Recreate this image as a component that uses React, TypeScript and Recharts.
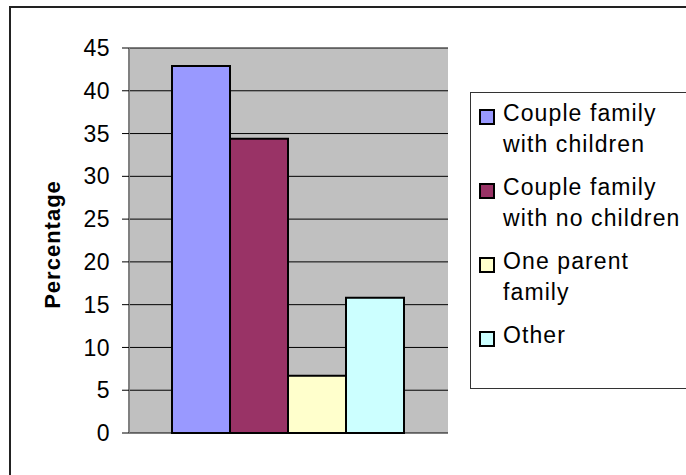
import { Bar, BarChart, CartesianGrid, XAxis, YAxis } from "recharts";

const FONT = '"Liberation Sans", Arial, sans-serif';

const categories = ["Family type"];
const seriesNames = [
  "Couple family with children",
  "Couple family with no children",
  "One parent family",
  "Other",
];
const seriesLines = [
  ["Couple family", "with children"],
  ["Couple family", "with no children"],
  ["One parent", "family"],
  ["Other"],
];
const seriesValues = [42.9, 34.4, 6.7, 15.8];
const seriesColors = ["#9999FF", "#993366", "#FFFFCC", "#CCFFFF"];
const yTicks = [0, 5, 10, 15, 20, 25, 30, 35, 40, 45];

const data = categories.map((c) => {
  const row: Record<string, string | number> = { name: c };
  seriesNames.forEach((s, i) => {
    row[s] = seriesValues[i];
  });
  return row;
});

function LegendBox() {
  return (
    <div
      style={{
        position: "absolute",
        left: 470,
        top: 92,
        width: 240,
        height: 297,
        border: "1px solid #333",
        boxSizing: "border-box",
        padding: "5px 0 0 8px",
        fontFamily: FONT,
        fontSize: 23,
        letterSpacing: 1.1,
        lineHeight: "31px",
        color: "#000",
      }}
    >
      {seriesNames.map((s, i) => (
        <div key={s} style={{ display: "flex", marginBottom: 12 }}>
          <div
            style={{
              width: 12,
              height: 12,
              marginTop: 11,
              marginRight: 8,
              background: seriesColors[i],
              border: "2px solid #000",
              flex: "none",
            }}
          />
          <div>
            {seriesLines[i].map((l) => (
              <div key={l} style={{ whiteSpace: "nowrap" }}>
                {l}
              </div>
            ))}
          </div>
        </div>
      ))}
    </div>
  );
}

export default function App() {
  return (
    <div
      style={{
        position: "absolute",
        left: 0,
        top: 0,
        width: 686,
        height: 475,
        overflow: "hidden",
        background: "#fff",
      }}
    >
      <div
        style={{
          position: "absolute",
          left: 9,
          top: 6,
          width: 900,
          height: 700,
          border: "2px solid #222",
        }}
      />
      <div style={{ position: "absolute", left: 0, top: 0 }}>
        <BarChart
          width={686}
          height={475}
          data={data}
          margin={{ top: 48, right: 238, bottom: 42, left: 0 }}
          barGap={0}
          barCategoryGap={43}
        >
          <CartesianGrid fill="#C0C0C0" stroke="#000" vertical={false} strokeOpacity={1} />
          <XAxis
            dataKey="name"
            height={0}
            tick={false}
            tickLine={false}
            axisLine={{ stroke: "#808080", strokeWidth: 2 }}
          />
          <XAxis
            xAxisId="top"
            orientation="top"
            dataKey="name"
            height={0}
            tick={false}
            tickLine={false}
            axisLine={{ stroke: "#808080", strokeWidth: 2 }}
          />
          <YAxis
            width={129}
            domain={[0, 45]}
            ticks={yTicks}
            interval={0}
            tickSize={7}
            tickMargin={12}
            tickLine={{ stroke: "#000" }}
            axisLine={{ stroke: "#808080", strokeWidth: 2 }}
            tick={{ fill: "#000", fontSize: 23, fontFamily: FONT, letterSpacing: 0.5 }}
            label={{
              content: ({ viewBox }: any) => {
                const cx = viewBox.x + 60;
                const cy = viewBox.y + viewBox.height / 2 + 4;
                return (
                  <text
                    x={cx}
                    y={cy}
                    transform={`rotate(-90 ${cx} ${cy})`}
                    textAnchor="middle"
                    fontFamily={FONT}
                    fontWeight="bold"
                    fontSize={22}
                    letterSpacing={1}
                    fill="#000"
                  >
                    Percentage
                  </text>
                );
              },
            }}
          />
          <YAxis
            yAxisId="right"
            orientation="right"
            width={0}
            domain={[0, 45]}
            tick={false}
            tickLine={false}
            axisLine={{ stroke: "#808080", strokeWidth: 2 }}
          />
          {seriesNames.map((s, i) => (
            <Bar
              key={s}
              dataKey={s}
              fill={seriesColors[i]}
              stroke="#000"
              strokeWidth={2}
              isAnimationActive={false}
            />
          ))}
        </BarChart>
      </div>
      <LegendBox />
    </div>
  );
}
